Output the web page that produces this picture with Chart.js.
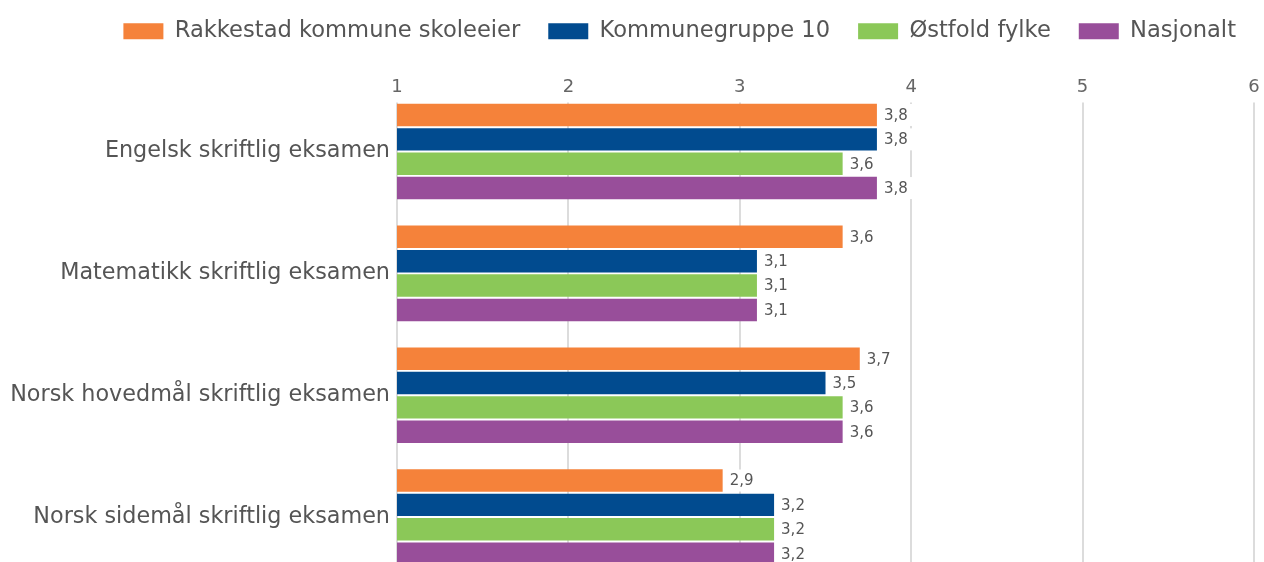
<!DOCTYPE html>
<html><head><meta charset="utf-8">
<script src="https://cdn.jsdelivr.net/npm/chart.js@4/dist/chart.umd.min.js"></script>
<style>html,body{margin:0;padding:0;overflow:hidden;background:#fff}canvas{display:block}</style>
</head><body>
<canvas id="c" width="1264" height="578"></canvas>
<script>
const categories = ['Engelsk skriftlig eksamen', 'Matematikk skriftlig eksamen', 'Norsk hovedmål skriftlig eksamen', 'Norsk sidemål skriftlig eksamen'];
const seriesNames = ['Rakkestad kommune skoleeier', 'Kommunegruppe 10', 'Østfold fylke', 'Nasjonalt'];
const rakkestad = [3.8, 3.6, 3.7, 2.9];
const kommunegruppe = [3.8, 3.1, 3.5, 3.2];
const ostfold = [3.6, 3.1, 3.6, 3.2];
const nasjonalt = [3.8, 3.1, 3.6, 3.2];
const xTicks = [1, 2, 3, 4, 5, 6];

const seriesValues = [rakkestad, kommunegruppe, ostfold, nasjonalt];
const colors = ['#F5823A', '#014B8F', '#8BC858', '#984E9A'];
const FONT = '"DejaVu Sans", Verdana, sans-serif';
Chart.defaults.font.family = FONT;

const gridPlugin = {
  id: 'customGrid',
  afterLayout(chart) {
    const s = chart.scales.x;
    s.bottom = chart.chartArea.top + 8;
    s.top = s.bottom - 38;
  },
  beforeDatasetsDraw(chart) {
    const {ctx, chartArea, scales} = chart;
    ctx.save();
    ctx.strokeStyle = '#dcdcdc';
    ctx.lineWidth = 2;
    xTicks.forEach(v => {
      const x = Math.round(scales.x.getPixelForValue(v));
      ctx.beginPath();
      ctx.moveTo(x, chartArea.top + 12);
      ctx.lineTo(x, chartArea.bottom);
      ctx.stroke();
    });
    ctx.restore();
  }
};

const labelPlugin = {
  id: 'valueLabels',
  afterDatasetsDraw(chart) {
    const {ctx} = chart;
    ctx.save();
    ctx.font = '15px ' + FONT;
    ctx.textBaseline = 'middle';
    ctx.textAlign = 'left';
    chart.data.datasets.forEach((ds, di) => {
      const meta = chart.getDatasetMeta(di);
      meta.data.forEach((el, i) => {
        const txt = ds.data[i].toFixed(1).replace('.', ',');
        const w = ctx.measureText(txt).width;
        ctx.fillStyle = '#ffffff';
        ctx.fillRect(el.x + 3, el.y - 11, w + 11, 22);
        ctx.fillStyle = '#555555';
        ctx.fillText(txt, el.x + 7, el.y + 1);
      });
    });
    ctx.restore();
  }
};

new Chart(document.getElementById('c'), {
  type: 'bar',
  data: {
    labels: categories,
    datasets: seriesNames.map((n, i) => ({
      label: n,
      data: seriesValues[i],
      backgroundColor: colors[i],
      borderWidth: 0,
      categoryPercentage: 0.8,
      barPercentage: 0.92
    }))
  },
  options: {
    indexAxis: 'y',
    responsive: false,
    animation: false,
    devicePixelRatio: 1,
    layout: {padding: {top: -8, left: 0, right: 0, bottom: 0}},
    plugins: {
      tooltip: {enabled: false},
      legend: {
        position: 'top',
        align: 'end',
        labels: {
          boxWidth: 40,
          boxHeight: 16,
          padding: 28,
          color: '#555555',
          font: {size: 22.6, family: FONT}
        }
      }
    },
    scales: {
      x: {
        type: 'linear',
        position: 'top',
        min: 1,
        max: 6,
        afterBuildTicks(scale) { scale.ticks = xTicks.map(v => ({value: v})); },
        ticks: {color: '#666666', font: {size: 18}, padding: 0},
        grid: {display: false, drawTicks: false},
        border: {display: false},
        afterFit(scale) { scale.height = 38; scale.paddingRight = 10; }
      },
      y: {
        type: 'category',
        ticks: {color: '#555555', font: {size: 22.3}, padding: 7},
        grid: {display: false, drawTicks: false},
        border: {display: false},
        afterFit(scale) { scale.width = 397; scale.paddingTop = 0; scale.paddingBottom = 0; }
      }
    }
  },
  plugins: [gridPlugin, labelPlugin]
});
</script>
</body></html>
